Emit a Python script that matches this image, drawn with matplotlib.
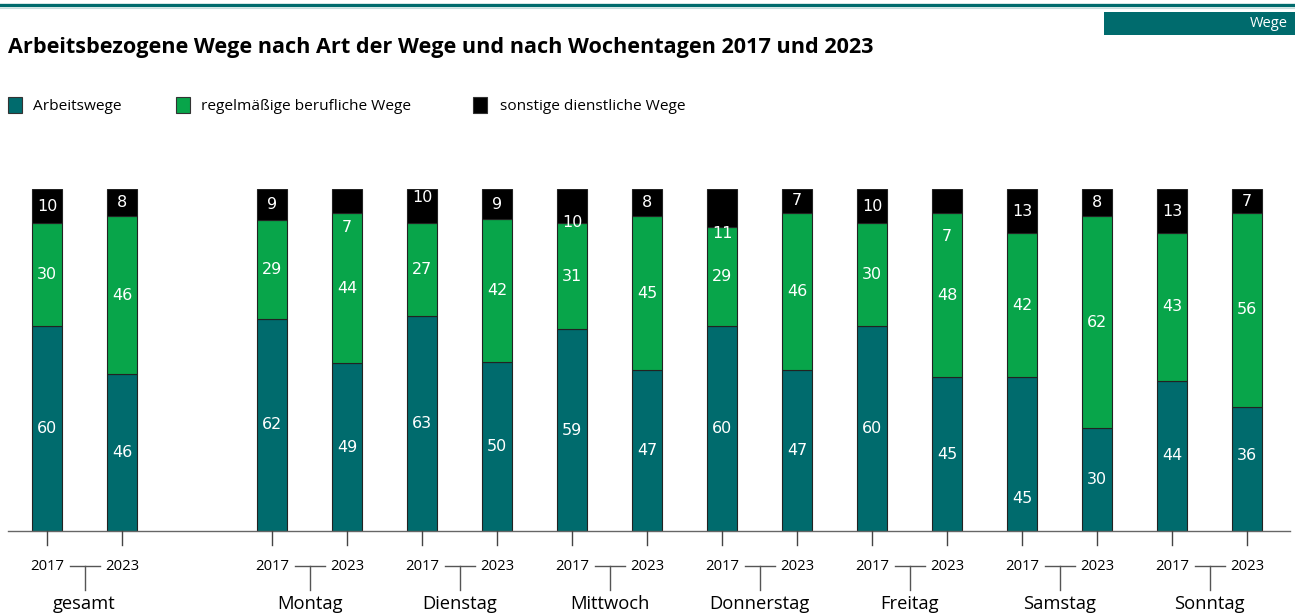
"""Arbeitsbezogene Wege nach Art der Wege und Wochentagen."""

import numpy as np
from matplotlib import pyplot as plt
from matplotlib.patches import Rectangle
from matplotlib.lines import Line2D

groups = ["gesamt", "Montag", "Dienstag", "Mittwoch", "Donnerstag", "Freitag", "Samstag", "Sonntag"]
years = ["2017", "2023"]
series = ["Arbeitswege", "regelmäßige berufliche Wege", "sonstige dienstliche Wege"]

# shares in percent, one entry per group, [2017, 2023]
arbeitswege = [[60, 46], [62, 49], [63, 50], [59, 47], [60, 47], [60, 45], [45, 30], [44, 36]]
regelmaessig = [[30, 46], [29, 44], [27, 42], [31, 45], [29, 46], [30, 48], [42, 62], [43, 56]]
sonstige = [[10, 8], [9, 7], [10, 9], [10, 8], [11, 7], [10, 7], [13, 8], [13, 7]]

colors = ["#006b6d", "#08a54a", "#000000"]
TEAL = "#006b6d"
LABEL_FONT = "Open Sans"

# label nudges in pixels (positive = downwards), keyed by (group, year, series)
nudges = {
    (1, 1, 2): 27,
    (2, 0, 2): -9,
    (3, 0, 2): 16,
    (4, 0, 2): 26,
    (5, 1, 2): 36,
    (6, 0, 0): 44,
    (7, 1, 0): -13,
}

W, H = 1295, 615
fig = plt.figure(figsize=(W / 100, H / 100), dpi=100)

# header decoration
fig.add_artist(Line2D([0, 1], [1 - 4.5 / H] * 2, color=TEAL, lw=2.4))
fig.add_artist(Line2D([0, 1], [1 - 8 / H] * 2, color="#c8dcdc", lw=0.8))
fig.add_artist(Rectangle((1104 / W, 1 - 35 / H), 191 / W, 23 / H, color=TEAL, lw=0))
fig.text(1288 / W, 1 - 23.5 / H, "Wege", color="white", ha="right", va="center",
         fontsize=10.5, family=LABEL_FONT)
fig.text(8 / W, 1 - 47 / H, "Arbeitsbezogene Wege nach Art der Wege und nach Wochentagen 2017 und 2023",
         ha="left", va="center", fontsize=15.6, fontweight="bold", family=LABEL_FONT)

# legend
legend_x = [(8, 33), (176, 201), (473, 500)]
for (sx, tx), name, col in zip(legend_x, series, colors):
    fig.add_artist(Rectangle((sx / W, 1 - 113 / H), 14 / W, 16 / H, facecolor=col,
                             edgecolor="#333333", lw=0.8))
    fig.text(tx / W, 1 - 106 / H, name, ha="left", va="center", fontsize=11.1, family=LABEL_FONT)

# axes: bottom at y=531px, 100% at y=189px
ax = fig.add_axes([8 / W, (H - 531) / H, (1290 - 8) / W, (531 - 189) / H])
ax.set_xlim(-0.52, 16.57)
ax.set_ylim(0, 100)
ax.axis("off")
ax.axhline(0, color="#666666", lw=1.0, clip_on=False)

data = np.array([arbeitswege, regelmaessig, sonstige], dtype=float)  # series x group x year
shares = data / data.sum(axis=0) * 100  # bars always fill 100 %
px_per_unit = 342 / 100

positions = []
for gi in range(len(groups)):
    base = 0 if gi == 0 else 3 + 2 * (gi - 1)
    positions.append([base, base + 1])

for gi, group in enumerate(groups):
    for yi, year in enumerate(years):
        x = positions[gi][yi]
        bottom = 0
        for si in range(len(series)):
            val = shares[si, gi, yi]
            ax.bar(x, val, bottom=bottom, width=0.4, color=colors[si],
                   edgecolor="#222222", linewidth=0.8)
            yc = bottom + val / 2 - nudges.get((gi, yi, si), 0) / px_per_unit
            ax.text(x, yc, f"{data[si, gi, yi]:.0f}", color="white", ha="center",
                    va="center", fontsize=11.5)
            bottom += val
        # tick below baseline
        ax.plot([x, x], [0, -14 / px_per_unit], color="#444444", lw=1.0, clip_on=False)
        ax.text(x, -35 / px_per_unit, year, ha="center", va="center", fontsize=10.7,
                family=LABEL_FONT)
    mid = (positions[gi][0] + positions[gi][1]) / 2
    ax.plot([mid - 0.2, mid + 0.2], [-35 / px_per_unit] * 2, color="#555555", lw=1.0, clip_on=False)
    ax.plot([mid, mid], [-35 / px_per_unit, -59 / px_per_unit], color="#555555", lw=1.0, clip_on=False)
    ax.text(mid, -73 / px_per_unit, group, ha="center", va="center", fontsize=13.2, family=LABEL_FONT)

fig.savefig("out.png", dpi=100)
